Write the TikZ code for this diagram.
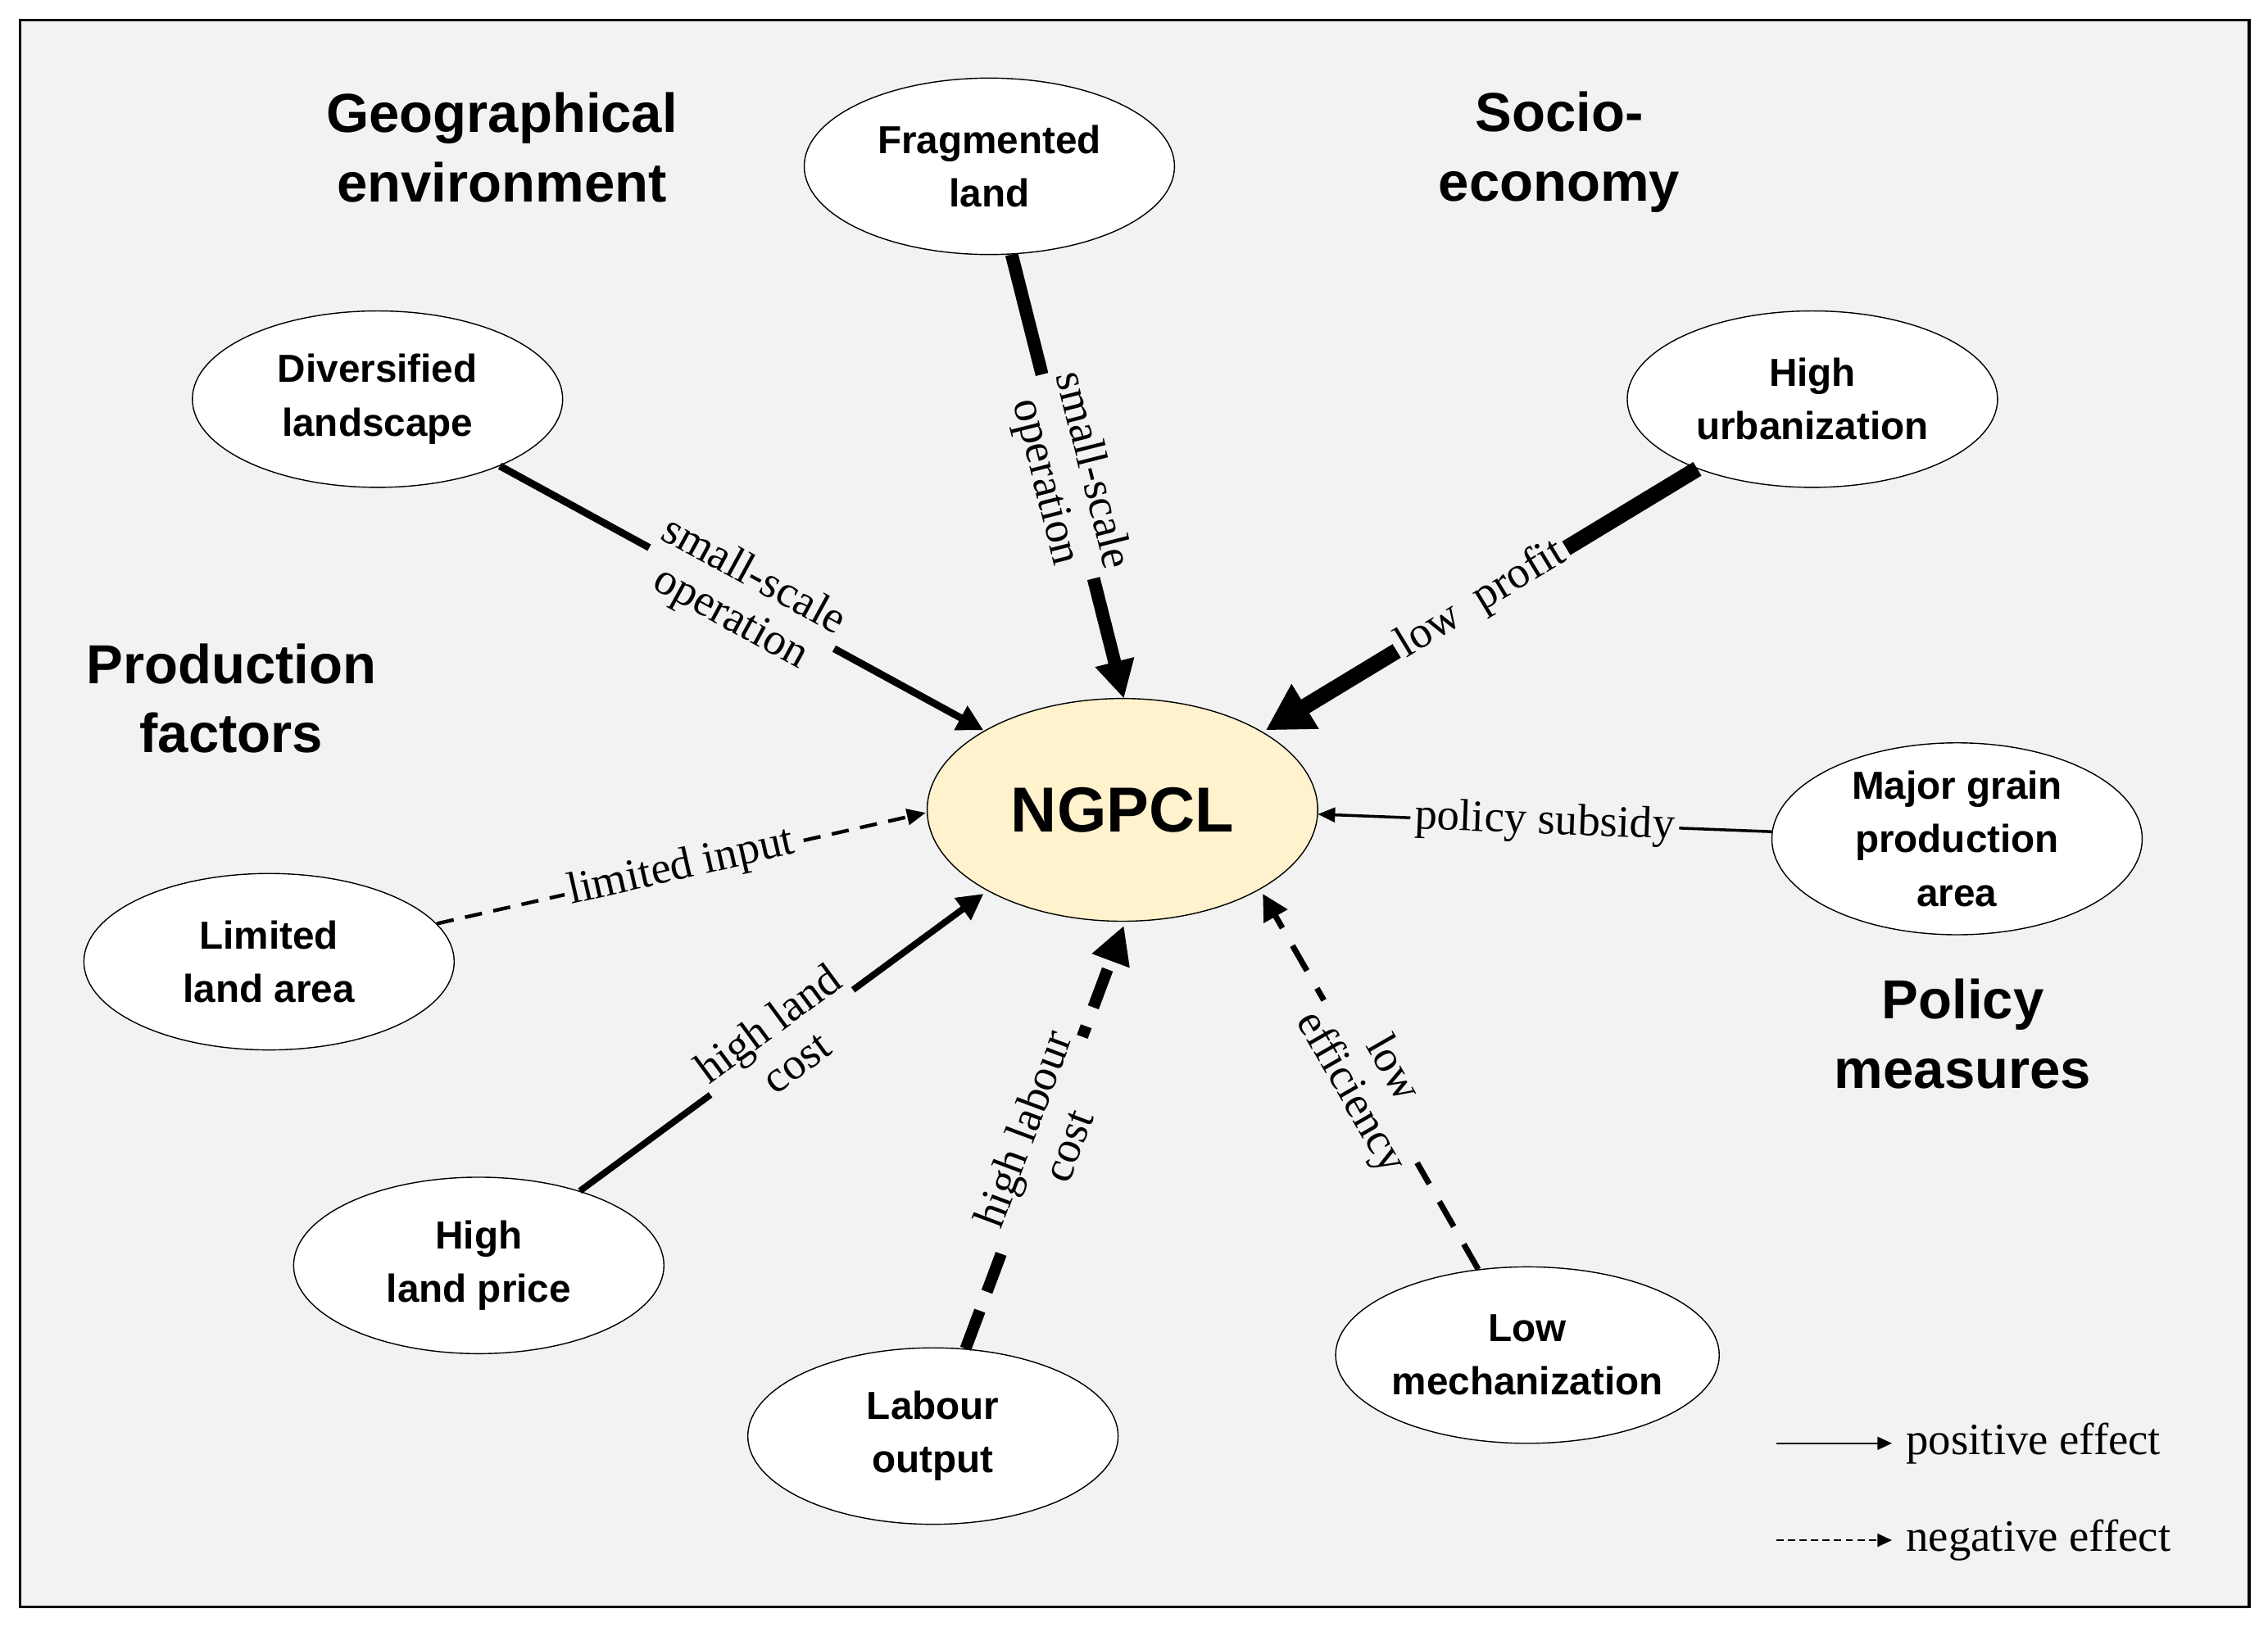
\documentclass[tikz,border=0pt]{standalone}
\usepackage{fontspec}
\setmainfont{Liberation Serif}
\newfontfamily\sansb{Liberation Sans}
\usetikzlibrary{arrows.meta,shapes.geometric}
\definecolor{bg}{HTML}{F2F2F2}
\definecolor{core}{HTML}{FFF2CC}
\begin{document}
\begin{tikzpicture}[x=1pt,y=-1pt,
  factor/.style={ellipse,draw,thick,fill=white,minimum width=256pt,minimum height=122pt,inner sep=0pt,align=center,font=\sansb\bfseries\fontsize{27}{37}\selectfont},
  group/.style={align=center,font=\sansb\bfseries\fontsize{38}{48}\selectfont},
  elab/.style={fill=bg,inner sep=3pt,align=center,font=\fontsize{31}{33}\selectfont},
]
\useasboundingbox (0,0) rectangle (1568,1131);
\fill[white] (0,0) rectangle (1568,1131);
\draw[line width=2pt,fill=bg] (14,14) rectangle (1555,1111);

\node[ellipse,draw,thick,fill=core,minimum width=270pt,minimum height=154pt,font=\sansb\bfseries\fontsize{44}{48}\selectfont] (n) at (776,560) {NGPCL};

\node[factor] (frag) at (684,115) {Fragmented\\land};
\node[factor] (div) at (261,276) {Diversified\\landscape};
\node[factor] (urb) at (1253,276) {High\\urbanization};
\node[factor] (maj) at (1353,580) {Major grain\\production\\area};
\node[factor] (lim) at (186,665) {Limited\\land area};
\node[factor] (lp) at (331,875) {High\\land price};
\node[factor] (lab) at (645,993) {Labour\\output};
\node[factor] (mech) at (1056,937) {Low\\mechanization};

\node[group] at (347,102) {Geographical\\environment};
\node[group] at (1078,105) {Socio-\\economy};
\node[group] at (160,483) {Production\\factors};
\node[group] at (1357,715) {Policy\\measures};

\coordinate (e1) at (777,483);
\coordinate (e2) at (875,505);
\coordinate (e3) at (680,505);
\coordinate (e4) at (640,562);
\coordinate (e5) at (680,618);
\coordinate (e6) at (777,640);
\coordinate (e7) at (873,618);
\coordinate (e8) at (911,563);

\draw[line width=9pt,-{Triangle[length=26pt,width=26pt]}] (frag) -- (e1) node[elab,pos=0.5,sloped] {small-scale\\operation};
\draw[line width=11pt,-{Triangle[length=32pt,width=34pt]}] (urb) -- (e2) node[elab,pos=0.5,sloped] {low\ \ profit};
\draw[line width=5pt,-{Triangle[length=18pt,width=18pt]}] (div) -- (e3) node[elab,pos=0.5,sloped] {small-scale\\operation};
\draw[line width=2.5pt,dash pattern=on 12pt off 8pt,-{Triangle[length=13pt,width=11pt]}] (lim) -- (e4) node[elab,pos=0.5,sloped] {limited input};
\draw[line width=4.5pt,-{Triangle[length=18pt,width=18pt]}] (lp) -- (e5) node[elab,pos=0.5,sloped] {high land\\cost};
\draw[line width=8pt,dash pattern=on 28pt off 14pt,-{Triangle[length=26pt,width=26pt]}] (lab) -- (e6) node[elab,pos=0.5,sloped] {high labour\\cost};
\draw[line width=4pt,dash pattern=on 20pt off 14pt,-{Triangle[length=18pt,width=18pt]}] (mech) -- (e7) node[elab,pos=0.5,sloped] {low\\efficiency};
\draw[line width=2pt,-{Triangle[length=12pt,width=10pt]}] (maj) -- (e8) node[elab,pos=0.5,sloped] {policy subsidy};

\coordinate (l1a) at (1228,998); \coordinate (l1b) at (1308,998);
\coordinate (l2a) at (1228,1065); \coordinate (l2b) at (1308,1065);
\draw[line width=1.2pt,-{Triangle[length=10pt,width=9pt]}] (l1a) -- (l1b) node[right,xshift=6pt,font=\fontsize{31}{33}\selectfont] {positive effect};
\draw[line width=1.2pt,dash pattern=on 5pt off 3pt,-{Triangle[length=10pt,width=9pt]}] (l2a) -- (l2b) node[right,xshift=6pt,font=\fontsize{31}{33}\selectfont] {negative effect};
\end{tikzpicture}
\end{document}
